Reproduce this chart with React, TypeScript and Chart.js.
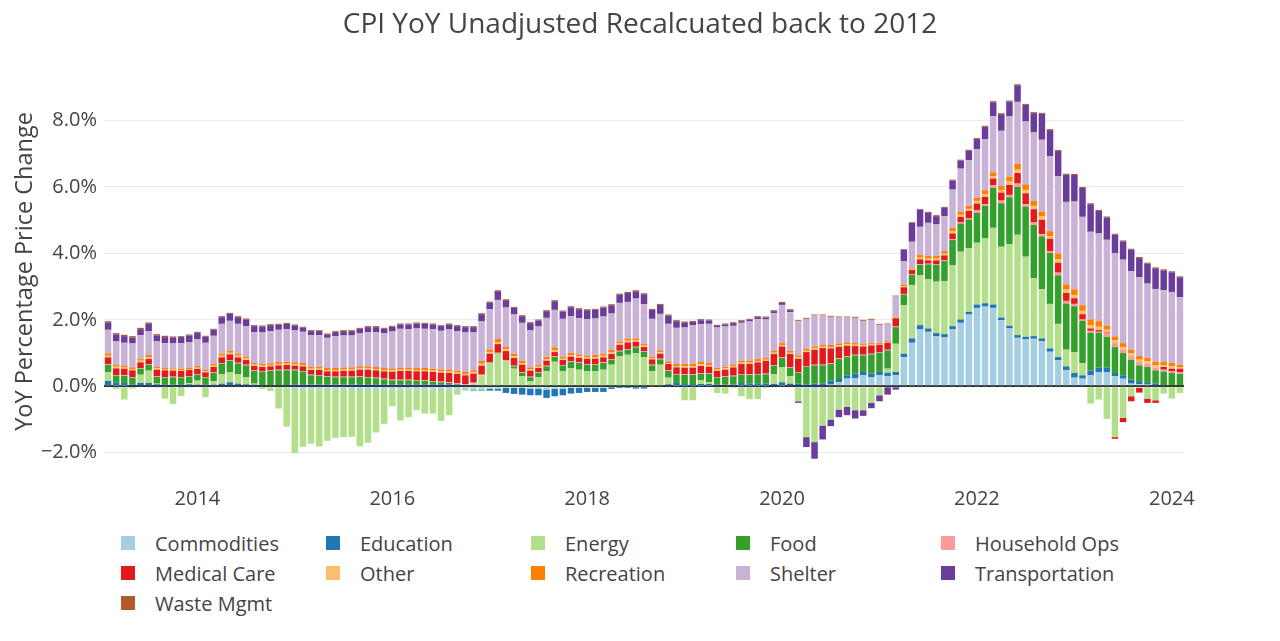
import React, { useEffect, useRef } from 'react';
import { Chart, registerables } from 'chart.js';

Chart.register(...registerables);

// ---- categories: monthly, Feb 2013 .. Feb 2024 ----
const FIRST_YEAR = 2013;
const FIRST_MONTH = 2;
const MONTH_COUNT = 133;
const months: string[] = [];
for (let i = 0; i < MONTH_COUNT; i++) {
  const m = FIRST_MONTH - 1 + i;
  months.push(`${FIRST_YEAR + Math.floor(m / 12)}-${String((m % 12) + 1).padStart(2, '0')}`);
}
const yearTickLabels = ['2014', '2016', '2018', '2020', '2022', '2024'];
const yTickValues = [-2, 0, 2, 4, 6, 8];

// ---- series (percentage-point contributions) ----
const commodities = [
  0.04, 0.02, 0.02, 0, 0, -0.02, -0.02, -0.02, -0.03, -0.02, -0.02,
  -0.03, -0.03, -0.02, 0, 0, 0, 0, -0.02, -0.03, -0.04, -0.05, -0.06,
  -0.08, -0.09, -0.1, -0.1, -0.11, -0.1, -0.1, -0.11, -0.12, -0.12, -0.11, -0.1,
  -0.1, -0.1, -0.1, -0.1, -0.1, -0.1, -0.11, -0.1, -0.1, -0.1, -0.1, -0.1,
  -0.08, -0.08, -0.05, -0.05, -0.05, -0.07, -0.07, -0.1, -0.08, -0.07, -0.05, -0.05,
  -0.05, -0.05, -0.05, -0.03, -0.02, -0.02, -0.02, -0.02, 0, 0, 0, 0.02,
  0.02, 0.02, 0.02, 0.02, 0, 0, 0, 0.02, 0.02, 0.02, 0.02, 0,
  0.02, 0, -0.05, -0.08, -0.1, -0.08, 0.05, 0.12, 0.23, 0.25, 0.33, 0.28,
  0.33, 0.31, 0.33, 0.88, 1.31, 1.71, 1.64, 1.5, 1.47, 1.71, 1.91, 2.16,
  2.36, 2.4, 2.36, 1.99, 1.74, 1.46, 1.41, 1.43, 1.36, 1.04, 0.78, 0.48,
  0.26, 0.23, 0.33, 0.43, 0.43, 0.3, 0.23, 0.08, 0.06, 0.05, 0.03, -0.02,
  -0.03, -0.03,
];
const education = [
  0.12, 0.1, 0.08, 0.06, 0.1, 0.1, 0.06, 0.06, 0.05, 0.06, 0.06,
  0.05, 0.06, 0.05, 0.08, 0.12, 0.08, 0.06, 0.05, 0.04, 0.04, 0.03, 0.03,
  0.06, 0.06, 0.05, 0.05, 0.05, 0.05, 0.05, 0.05, 0.06, 0.06, 0.06, 0.06,
  0.06, 0.06, 0.06, 0.06, 0.06, 0.06, 0.06, 0.06, 0.05, 0.04, 0.04, 0.03,
  -0.05, -0.05, -0.15, -0.18, -0.2, -0.2, -0.2, -0.25, -0.22, -0.2, -0.17, -0.15,
  -0.12, -0.12, -0.12, -0.05, -0.03, -0.03, -0.05, -0.05, 0, 0, 0.06, 0.08,
  0.05, 0.05, 0.05, 0.05, 0.06, 0.05, 0.05, 0.08, 0.07, 0.07, 0.06, 0.07,
  0.1, 0.08, 0.08, 0.06, 0.08, 0.08, 0.12, 0.1, 0.1, 0.13, 0.1, 0.1,
  0.1, 0.1, 0.1, 0.1, 0.13, 0.13, 0.1, 0.1, 0.1, 0.1, 0.1, 0.08,
  0.1, 0.1, 0.1, 0.08, 0.08, 0.08, 0.08, 0.08, 0.08, 0.1, 0.1, 0.12,
  0.14, 0.1, 0.15, 0.13, 0.13, 0.1, 0.1, 0.12, 0.07, 0.05, 0.05, 0.04,
  0.03, 0.03,
];
const energy = [
  0.26, -0.08, -0.4, -0.07, 0.25, 0.37, 0.02, -0.35, -0.5, -0.27, 0.03,
  0.12, -0.3, 0.1, 0.28, 0.3, 0.28, 0.22, 0.03, -0.05, -0.1, -0.62, -1.15,
  -1.93, -1.73, -1.63, -1.71, -1.53, -1.45, -1.43, -1.41, -1.69, -1.58, -1.28, -1.03,
  -0.5, -0.93, -0.83, -0.62, -0.72, -0.72, -0.93, -0.77, -0.15, 0, 0.05, 0.3,
  0.7, 0.98, 0.75, 0.53, 0.3, 0.15, 0.27, 0.45, 0.74, 0.45, 0.55, 0.5,
  0.45, 0.45, 0.5, 0.65, 0.9, 0.95, 1.0, 0.88, 0.45, 0.65, 0.2, -0.02,
  -0.42, -0.42, 0.12, 0.05, -0.2, -0.22, -0.05, -0.3, -0.39, -0.39, -0.05, 0.3,
  0.46, 0.22, -0.4, -1.45, -1.58, -1.1, -1.0, -0.7, -0.62, -0.72, -0.72, -0.5,
  -0.27, 0.12, 0.85, 1.46, 1.61, 1.51, 1.48, 1.55, 1.6, 1.84, 2.04, 1.91,
  1.86, 1.95, 2.31, 2.13, 2.46, 3.02, 2.41, 1.74, 1.48, 1.34, 1.0, 0.5,
  0.63, 0.37, -0.52, -0.4, -0.98, -1.53, -0.95, -0.3, -0.05, -0.37, -0.42, -0.2,
  -0.34, -0.17,
];
const food = [
  0.22, 0.2, 0.21, 0.2, 0.18, 0.18, 0.2, 0.2, 0.22, 0.2, 0.2,
  0.18, 0.2, 0.25, 0.32, 0.35, 0.33, 0.35, 0.38, 0.4, 0.42, 0.45, 0.45,
  0.42, 0.38, 0.28, 0.27, 0.23, 0.22, 0.22, 0.22, 0.22, 0.2, 0.18, 0.15,
  0.12, 0.12, 0.12, 0.11, 0.1, 0.08, 0.06, 0.04, 0.02, -0.02, -0.03, -0.03,
  0.01, 0.01, 0.01, 0.07, 0.1, 0.12, 0.13, 0.15, 0.14, 0.17, 0.18, 0.2,
  0.2, 0.2, 0.2, 0.15, 0.15, 0.15, 0.17, 0.16, 0.18, 0.16, 0.2, 0.25,
  0.27, 0.27, 0.18, 0.25, 0.2, 0.23, 0.25, 0.25, 0.25, 0.26, 0.28, 0.25,
  0.27, 0.25, 0.33, 0.53, 0.55, 0.55, 0.5, 0.6, 0.55, 0.55, 0.5, 0.58,
  0.58, 0.55, 0.5, 0.32, 0.3, 0.3, 0.45, 0.5, 0.6, 0.75, 0.85, 0.87,
  0.9, 0.98, 1.2, 1.31, 1.41, 1.44, 1.51, 1.61, 1.59, 1.53, 1.46, 1.39,
  1.38, 1.27, 1.13, 1.05, 0.93, 0.78, 0.67, 0.6, 0.5, 0.48, 0.4, 0.4,
  0.37, 0.34,
];
const householdOps = [
  0.02, 0.02, 0.02, 0.02, 0.02, 0.02, 0.02, 0.02, 0.02, 0.02, 0.02,
  0.02, 0.02, 0.02, 0.02, 0.02, 0.02, 0.02, 0.02, 0.02, 0.02, 0.02, 0.02,
  0.02, 0.02, 0.02, 0.02, 0.02, 0.02, 0.02, 0.02, 0.02, 0.02, 0.02, 0.02,
  0.02, 0.02, 0.02, 0.02, 0.02, 0.02, 0.02, 0.02, 0.02, 0.02, 0.02, 0.02,
  0.02, 0.02, 0.02, 0.02, 0.02, 0.02, 0.02, 0.02, 0.02, 0.02, 0.02, 0.02,
  0.02, 0.02, 0.02, 0.02, 0.02, 0.02, 0.02, 0.02, 0.02, 0.02, 0.02, 0.02,
  0.02, 0.02, 0.02, 0.02, 0.02, 0.02, 0.02, 0.02, 0.02, 0.02, 0.02, 0.02,
  0.02, 0.02, 0.02, 0.02, 0.02, 0.02, 0.02, 0.02, 0.02, 0.02, 0.02, 0.02,
  0.02, 0.02, 0.02, 0.02, 0.02, 0.02, 0.02, 0.02, 0.02, 0.03, 0.03, 0.03,
  0.08, 0.05, 0.08, 0.08, 0.07, 0.1, 0.07, 0.07, 0.07, 0.06, 0.08, 0.08,
  0.07, 0.04, 0.06, 0.03, 0.1, 0.12, 0.1, 0.12, 0.1, 0.1, 0.08, 0.06,
  0.05, 0.06,
];
const medicalCare = [
  0.21, 0.2, 0.2, 0.2, 0.17, 0.15, 0.2, 0.2, 0.18, 0.18, 0.18,
  0.15, 0.14, 0.16, 0.17, 0.17, 0.16, 0.14, 0.13, 0.12, 0.12, 0.13, 0.14,
  0.12, 0.14, 0.14, 0.15, 0.15, 0.16, 0.17, 0.18, 0.2, 0.22, 0.22, 0.22,
  0.24, 0.26, 0.26, 0.26, 0.27, 0.27, 0.27, 0.28, 0.28, 0.27, 0.27, 0.27,
  0.25, 0.26, 0.28, 0.23, 0.23, 0.18, 0.13, 0.15, 0.13, 0.15, 0.14, 0.13,
  0.16, 0.16, 0.15, 0.15, 0.18, 0.2, 0.15, 0.12, 0.16, 0.15, 0.19, 0.2,
  0.2, 0.2, 0.22, 0.2, 0.18, 0.2, 0.25, 0.3, 0.31, 0.35, 0.38, 0.33,
  0.33, 0.4, 0.4, 0.42, 0.45, 0.5, 0.45, 0.35, 0.32, 0.26, 0.25, 0.25,
  0.22, 0.21, 0.25, 0.2, 0.13, 0.15, 0.1, 0.12, 0.15, 0.17, 0.17, 0.23,
  0.2, 0.22, 0.2, 0.24, 0.3, 0.32, 0.33, 0.4, 0.43, 0.37, 0.3, 0.24,
  0.17, 0.16, 0.07, 0.05, 0.03, -0.05, -0.13, -0.15, -0.14, -0.13, -0.08, 0.08,
  0.08, 0.1,
];
const other = [
  0.05, 0.05, 0.03, 0.04, 0.05, 0.06, 0.04, 0.04, 0.03, 0.03, 0.03,
  0.04, 0.03, 0.04, 0.05, 0.05, 0.05, 0.05, 0.04, 0.04, 0.04, 0.04, 0.04,
  0.04, 0.04, 0.04, 0.04, 0.04, 0.04, 0.04, 0.04, 0.04, 0.04, 0.04, 0.04,
  0.04, 0.04, 0.04, 0.04, 0.04, 0.04, 0.04, 0.04, 0.04, 0.04, 0.04, 0.06,
  0.05, 0.06, 0.05, 0.05, 0.05, 0.04, 0.04, 0.05, 0.06, 0.04, 0.05, 0.05,
  0.04, 0.05, 0.05, 0.05, 0.04, 0.05, 0.04, 0.04, 0.03, 0.04, 0.03, 0.04,
  0.05, 0.05, 0.05, 0.05, 0.04, 0.04, 0.04, 0.04, 0.04, 0.04, 0.04, 0.04,
  0.04, 0.04, 0.04, 0.04, 0.04, 0.04, 0.04, 0.04, 0.04, 0.04, 0.03, 0.03,
  0.02, 0.02, 0.02, 0.03, 0.02, 0.05, 0.05, 0.05, 0.05, 0.07, 0.06, 0.06,
  0.08, 0.08, 0.07, 0.08, 0.1, 0.1, 0.1, 0.1, 0.1, 0.08, 0.1, 0.1,
  0.1, 0.1, 0.1, 0.1, 0.08, 0.08, 0.08, 0.07, 0.07, 0.07, 0.07, 0.06,
  0.07, 0.05,
];
const recreation = [
  0.07, 0.06, 0.05, 0.05, 0.05, 0.06, 0.04, 0.04, 0.04, 0.04, 0.04,
  0.05, 0.04, 0.05, 0.06, 0.06, 0.06, 0.05, 0.05, 0.05, 0.05, 0.06, 0.06,
  0.06, 0.06, 0.06, 0.06, 0.06, 0.06, 0.06, 0.06, 0.06, 0.06, 0.06, 0.06,
  0.06, 0.06, 0.06, 0.06, 0.06, 0.06, 0.06, 0.06, 0.06, 0.06, 0.06, 0.08,
  0.08, 0.09, 0.07, 0.08, 0.07, 0.06, 0.06, 0.07, 0.08, 0.06, 0.07, 0.06,
  0.05, 0.06, 0.06, 0.07, 0.06, 0.07, 0.06, 0.05, 0.05, 0.06, 0.05, 0.06,
  0.07, 0.07, 0.07, 0.06, 0.05, 0.05, 0.05, 0.06, 0.06, 0.06, 0.06, 0.06,
  0.06, 0.06, 0.06, 0.06, 0.06, 0.06, 0.06, 0.06, 0.06, 0.06, 0.04, 0.04,
  0.03, 0.03, 0.03, 0.05, 0.03, 0.08, 0.08, 0.08, 0.08, 0.1, 0.09, 0.09,
  0.1, 0.12, 0.12, 0.12, 0.15, 0.18, 0.17, 0.15, 0.15, 0.15, 0.18, 0.16,
  0.17, 0.17, 0.17, 0.17, 0.12, 0.12, 0.12, 0.11, 0.11, 0.11, 0.11, 0.09,
  0.1, 0.07,
];
const shelter = [
  0.71, 0.7, 0.7, 0.72, 0.72, 0.72, 0.77, 0.74, 0.75, 0.77, 0.77,
  0.8, 0.82, 0.85, 0.9, 0.9, 0.9, 0.92, 0.93, 0.95, 0.97, 0.97, 0.98,
  0.96, 0.94, 0.95, 0.95, 0.91, 0.96, 0.97, 0.96, 0.99, 1.03, 1.05, 1.05,
  1.11, 1.17, 1.16, 1.19, 1.18, 1.19, 1.16, 1.21, 1.19, 1.19, 1.14, 1.19,
  1.21, 1.18, 1.19, 1.18, 1.14, 1.11, 1.15, 1.17, 1.13, 1.14, 1.1, 1.09,
  1.1, 1.1, 1.12, 1.1, 1.16, 1.1, 1.2, 1.2, 1.14, 1.1, 1.13, 1.09,
  1.09, 1.16, 1.14, 1.18, 1.22, 1.21, 1.16, 1.14, 1.18, 1.2, 1.15, 1.13,
  1.15, 1.16, 1.03, 0.9, 0.93, 0.88, 0.85, 0.78, 0.75, 0.75, 0.7, 0.7,
  0.55, 0.5, 0.6, 0.7, 0.8, 0.85, 1.0, 0.95, 1.05, 1.15, 1.3, 1.38,
  1.46, 1.53, 1.69, 1.66, 1.81, 1.86, 1.89, 2.06, 2.16, 2.26, 2.33, 2.48,
  2.64, 2.66, 2.64, 2.64, 2.59, 2.51, 2.51, 2.36, 2.38, 2.23, 2.19, 2.16,
  2.14, 2.03,
];
const transportation = [
  0.22, 0.21, 0.2, 0.18, 0.18, 0.22, 0.18, 0.18, 0.18, 0.18, 0.2,
  0.2, 0.18, 0.18, 0.2, 0.21, 0.2, 0.2, 0.18, 0.18, 0.18, 0.15, 0.16,
  0.15, 0.12, 0.12, 0.12, 0.1, 0.12, 0.13, 0.13, 0.14, 0.15, 0.15, 0.13,
  0.14, 0.13, 0.14, 0.15, 0.15, 0.14, 0.14, 0.15, 0.15, 0.16, 0.16, 0.22,
  0.2, 0.26, 0.22, 0.2, 0.2, 0.22, 0.18, 0.2, 0.26, 0.22, 0.27, 0.27,
  0.27, 0.26, 0.27, 0.25, 0.25, 0.27, 0.22, 0.3, 0.27, 0.27, 0.25, 0.2,
  0.15, 0.1, 0.12, 0.1, 0.05, 0.06, 0.08, 0.05, 0.05, 0.06, 0.06, 0.06,
  0.06, 0.06, -0.05, -0.3, -0.5, -0.42, -0.2, -0.23, -0.25, -0.25, -0.17, -0.16,
  -0.18, -0.25, -0.1, 0.35, 0.57, 0.52, 0.3, 0.25, 0.25, 0.27, 0.24, 0.28,
  0.3, 0.38, 0.42, 0.5, 0.45, 0.5, 0.5, 0.58, 0.78, 0.78, 0.75, 0.82,
  0.8, 0.87, 0.83, 0.68, 0.67, 0.55, 0.55, 0.65, 0.57, 0.6, 0.62, 0.6,
  0.59, 0.6,
];
const wasteMgmt = [
  0.04, 0.04, 0.04, 0.04, 0.04, 0.04, 0.04, 0.04, 0.03, 0.03, 0.03,
  0.03, 0.03, 0.03, 0.03, 0.03, 0.03, 0.03, 0.03, 0.03, 0.03, 0.03, 0.03,
  0.03, 0.03, 0.03, 0.03, 0.03, 0.03, 0.03, 0.03, 0.03, 0.03, 0.03, 0.03,
  0.03, 0.03, 0.03, 0.03, 0.03, 0.03, 0.03, 0.03, 0.03, 0.03, 0.03, 0.03,
  0.03, 0.03, 0.03, 0.03, 0.03, 0.03, 0.03, 0.03, 0.03, 0.03, 0.03, 0.03,
  0.03, 0.03, 0.03, 0.03, 0.03, 0.03, 0.03, 0.03, 0.03, 0.03, 0.03, 0.03,
  0.03, 0.03, 0.03, 0.03, 0.03, 0.03, 0.03, 0.03, 0.03, 0.03, 0.03, 0.03,
  0.03, 0.03, 0.03, 0.03, 0.03, 0.03, 0.03, 0.03, 0.03, 0.03, 0.03, 0.03,
  0.03, 0.03, 0.03, 0.02, 0.02, 0.02, 0.03, 0.03, 0.03, 0.03, 0.03, 0.03,
  0.03, 0.03, 0.03, 0.03, 0.03, 0.03, 0.03, 0.03, 0.03, 0.03, 0.03, 0.03,
  0.03, 0.03, 0.03, 0.03, 0.03, 0.03, 0.03, 0.03, 0.03, 0.03, 0.03, 0.03,
  0.03, 0.03,
];

const seriesNames = [
  'Commodities', 'Education', 'Energy', 'Food', 'Household Ops', 'Medical Care',
  'Other', 'Recreation', 'Shelter', 'Transportation', 'Waste Mgmt',
];
const seriesColors = [
  '#a6cee3', '#1f78b4', '#b2df8a', '#33a02c', '#fb9a99', '#e31a1c',
  '#fdbf6f', '#ff7f00', '#cab2d6', '#6a3d9a', '#b15928',
];
const seriesValues = [
  commodities, education, energy, food, householdOps, medicalCare,
  other, recreation, shelter, transportation, wasteMgmt,
];

const FONT = '"Open Sans", "DejaVu Sans", sans-serif';
const TEXT = '#444';

export default function App() {
  const ref = useRef<HTMLCanvasElement | null>(null);

  useEffect(() => {
    if (!ref.current) return;
    Chart.defaults.font.family = FONT;
    const chart = new Chart(ref.current, {
      type: 'bar',
      data: {
        labels: months,
        datasets: seriesNames.map((name, i) => ({
          label: name,
          data: seriesValues[i],
          backgroundColor: seriesColors[i],
          borderWidth: 0,
          barPercentage: 0.8,
          categoryPercentage: 1.0,
        })),
      },
      options: {
        animation: false,
        responsive: false,
        layout: { padding: { left: 0, right: 96, top: 66, bottom: 0 } },
        plugins: { legend: { display: false }, tooltip: { enabled: false } },
        scales: {
          x: {
            stacked: true,
            offset: true,
            grid: { display: false, drawTicks: false },
            border: { display: false },
            ticks: {
              autoSkip: false,
              maxRotation: 0,
              minRotation: 0,
              padding: 10,
              color: TEXT,
              font: { size: 20, family: FONT },
              callback: (_v: any, idx: number) => {
                const lab = months[idx];
                const [y, m] = lab.split('-');
                return m === '01' && yearTickLabels.includes(y) ? y : '';
              },
            },
            afterFit: (s: any) => {
              s.height = 43;
            },
          },
          y: {
            stacked: true,
            min: -2.73,
            max: 9.64,
            grid: {
              drawTicks: false,
              color: (c: any) => (c.tick && c.tick.value === 0 ? '#333' : '#ebebeb'),
              lineWidth: (c: any) => (c.tick && c.tick.value === 0 ? 2 : 1),
            },
            border: { display: false },
            afterBuildTicks: (s: any) => {
              s.ticks = yTickValues.map((v) => ({ value: v }));
            },
            ticks: {
              padding: 7,
              color: TEXT,
              font: { size: 20, family: FONT },
              callback: (v: any) => {
                const n = Number(v);
                return (n < 0 ? '\u2212' : '') + Math.abs(n).toFixed(1) + '%';
              },
            },
            title: {
              display: true,
              text: 'YoY Percentage Price Change',
              color: TEXT,
              font: { size: 23.5, family: FONT, lineHeight: 1.2 },
              padding: { top: 11, bottom: 0 },
            },
            afterFit: (s: any) => {
              s.width = 104;
            },
          },
        },
      },
    });
    return () => chart.destroy();
  }, []);

  return (
    <div
      style={{
        position: 'absolute',
        left: 0,
        top: 0,
        width: 1280,
        height: 641,
        background: '#fff',
        fontFamily: FONT,
        color: TEXT,
        overflow: 'hidden',
      }}
    >
      <canvas
        ref={ref}
        width={1280}
        height={520}
        style={{ position: 'absolute', left: 0, top: 0, width: 1280, height: 520 }}
      />
      <div
        style={{
          position: 'absolute',
          left: 0,
          top: 5,
          width: 1280,
          textAlign: 'center',
          fontSize: 28,
          lineHeight: '34px',
          whiteSpace: 'nowrap',
        }}
      >
        CPI YoY Unadjusted Recalcuated back to 2012
      </div>
      {seriesNames.map((name, i) => {
        const col = i % 5;
        const row = Math.floor(i / 5);
        return (
          <div
            key={name}
            style={{
              position: 'absolute',
              left: 121 + col * 205,
              top: 528 + row * 30,
              height: 30,
              display: 'flex',
              alignItems: 'center',
              fontSize: 20,
              whiteSpace: 'nowrap',
            }}
          >
            <span
              style={{
                display: 'inline-block',
                width: 14,
                height: 14,
                background: seriesColors[i],
                marginRight: 20,
              }}
            />
            <span>{name}</span>
          </div>
        );
      })}
    </div>
  );
}
